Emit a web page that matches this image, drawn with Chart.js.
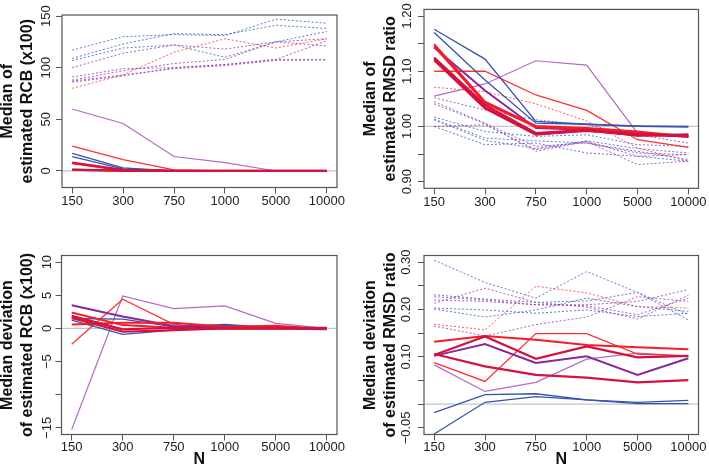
<!DOCTYPE html>
<html>
<head>
<meta charset="utf-8">
<script src="https://cdn.jsdelivr.net/npm/chart.js@4.4.1/dist/chart.umd.min.js"></script>
<style>
body { margin: 0; background: #fff; }
#wrap { position: relative; width: 709px; height: 471px; overflow: hidden; }
canvas { position: absolute; }
</style>
</head>
<body>
<div id="wrap">
  <canvas id="rcb-median" width="354" height="230" style="left:0;top:0"></canvas>
  <canvas id="rmsd-median" width="355" height="230" style="left:354px;top:0"></canvas>
  <canvas id="rcb-dev" width="354" height="241" style="left:0;top:230px"></canvas>
  <canvas id="rmsd-dev" width="355" height="241" style="left:354px;top:230px"></canvas>
</div>
<script>
// sample sizes (x axis)
var nLabels = ['150', '300', '750', '1000', '5000', '10000'];

// --- Median of estimated RCB (x100)
var rcbMedTicks = [0, 50, 100, 150];
var rcbMedTickLabels = ['0', '50', '100', '150'];
var rcbMedSolid = [
  [1, 0, 0, 0, 0, 0],
  [8, 1, 0, 0, 0, 0],
  [7.5, 0.5, 0, 0, 0, 0],
  [1.5, 0.5, 0, 0, 0, 0],
  [17, 3, 0, 0, 0, 0],
  [14, 2, 0, 0, 0, 0],
  [24, 11, 1, 0, 0, 0],
  [60, 46, 14, 8, 0, 0]
];
var rcbMedSolidStyle = ['crimson', 'crimson', 'redT', 'purple', 'blue', 'blue', 'red', 'lpurple'];
var rcbMedDotted = [
  [117, 130, 132, 131, 147, 143],
  [109, 123, 133, 132, 141, 138],
  [107, 119, 122, 110, 125, 135],
  [100, 114, 122, 118, 125, 128],
  [91, 99, 100, 103, 108, 108],
  [88, 97, 104, 108, 125, 121],
  [87, 93, 99, 102, 107, 107.5],
  [86, 92, 100, 103, 108, 126],
  [80, 93, 115, 128, 119, 128]
];
var rcbMedDottedStyle = ['dBlue', 'dBlue', 'dBlue', 'dPurple', 'dPurple', 'dPurple', 'dPurple', 'dPurple', 'dRed'];

// --- Median of estimated RMSD ratio
var rmsdMedTicks = [0.90, 0.95, 1.00, 1.05, 1.10, 1.15, 1.20];
var rmsdMedTickLabels = ['0.90', '', '1.00', '', '1.10', '', '1.20'];
var rmsdMedSolid = [
  [1.125, 1.039, 0.988, 0.994, 0.986, 0.983],
  [1.123, 1.035, 0.986, 0.992, 0.985, 0.982],
  [1.120, 1.033, 0.985, 0.993, 0.984, 0.984],
  [1.149, 1.045, 1.001, 0.997, 0.991, 0.982],
  [1.145, 1.042, 0.999, 0.995, 0.989, 0.981],
  [1.143, 1.065, 0.997, 0.994, 0.983, 0.986],
  [1.176, 1.122, 1.009, 1.004, 1.001, 1.000],
  [1.170, 1.084, 1.006, 1.004, 1.000, 0.999],
  [1.100, 1.100, 1.057, 1.029, 0.976, 0.962],
  [1.055, 1.077, 1.119, 1.111, 0.988, 0.985]
];
var rmsdMedSolidStyle = ['crimson', 'crimson', 'crimson', 'redT', 'redT', 'purple', 'blue', 'blue', 'red', 'lpurple'];
var rmsdMedDotted = [
  [1.071, 1.063, 1.041, 1.010, 0.961, 0.937],
  [1.052, 1.030, 1.012, 1.003, 0.985, 0.970],
  [1.045, 1.006, 0.964, 0.970, 0.952, 0.949],
  [1.041, 1.005, 0.955, 0.973, 0.946, 0.949],
  [1.000, 1.003, 0.958, 0.973, 0.931, 0.937],
  [1.017, 0.991, 0.982, 0.985, 0.967, 0.964],
  [1.013, 0.979, 0.974, 0.970, 0.955, 0.940],
  [1.000, 0.967, 0.970, 0.952, 0.946, 0.937],
  [1.012, 0.975, 0.960, 0.974, 0.960, 0.952]
];
var rmsdMedDottedStyle = ['dRed', 'dPurple', 'dPurple', 'dPurple', 'dPurple', 'dBlue', 'dBlue', 'dBlue', 'dBlue'];

// --- Median deviation of estimated RCB (x100)
var rcbDevTicks = [-15, -10, -5, 0, 5, 10];
var rcbDevTickLabels = ['\u221215', '', '\u22125', '0', '5', '10'];
var rcbDevSolid = [
  [1.9, -0.15, 0.1, 0, 0, 0],
  [1.6, -0.5, -0.25, 0, 0, -0.1],
  [2.4, 0.5, 0.1, 0, 0, 0],
  [0.6, 0.86, 0.86, 0.25, 0.4, -0.1],
  [3.5, 1.8, 0.35, 0.1, 0.1, 0],
  [1.5, 1.4, 0.25, 0.6, 0.1, 0.15],
  [1.26, -0.9, -0.25, 0.5, 0, 0],
  [-2.4, 4.4, 0.6, 0, 0, 0],
  [-15.25, 4.9, 3.0, 3.4, 0.76, 0]
];
var rcbDevSolidStyle = ['crimson', 'crimson', 'redT', 'redT', 'purple', 'blue', 'blue', 'red', 'lpurple'];

// --- Median deviation of estimated RMSD ratio
var rmsdDevTicks = [-0.05, 0, 0.05, 0.10, 0.15, 0.20, 0.25, 0.30];
var rmsdDevTickLabels = ['\u22120.05', '', '', '0.10', '', '0.20', '', '0.30'];
var rmsdDevSolid = [
  [0.104, 0.143, 0.096, 0.122, 0.099, 0.102],
  [0.106, 0.080, 0.062, 0.056, 0.046, 0.051],
  [0.132, 0.144, 0.136, 0.125, 0.120, 0.116],
  [0.102, 0.127, 0.087, 0.101, 0.062, 0.097],
  [-0.018, 0.020, 0.022, 0.009, 0.004, 0.008],
  [-0.063, 0.004, 0.016, 0.009, 0.001, 0.001],
  [0.088, 0.048, 0.149, 0.149, 0.106, 0.102],
  [0.083, 0.027, 0.046, 0.095, 0.108, 0.101]
];
var rmsdDevSolidStyle = ['crimson', 'crimson', 'redT', 'purple', 'blue', 'blue', 'red', 'lpurple'];
var rmsdDevDotted = [
  [0.304, 0.257, 0.224, 0.280, 0.236, 0.178],
  [0.231, 0.222, 0.215, 0.218, 0.236, 0.189],
  [0.201, 0.184, 0.199, 0.224, 0.206, 0.196],
  [0.203, 0.199, 0.192, 0.199, 0.185, 0.192],
  [0.227, 0.220, 0.210, 0.210, 0.217, 0.242],
  [0.220, 0.217, 0.210, 0.208, 0.189, 0.224],
  [0.213, 0.245, 0.215, 0.205, 0.180, 0.230],
  [0.169, 0.157, 0.249, 0.235, 0.206, 0.203],
  [0.165, 0.144, 0.168, 0.184, 0.227, 0.217]
];
var rmsdDevDottedStyle = ['dBlue', 'dBlue', 'dBlue', 'dBlue', 'dPurple', 'dPurple', 'dPurple', 'dRed', 'dPurple'];

// colour, width, dotted
var lineStyles = {
  blue:    ['#3553ad', 1.3, false],
  purple:  ['#86299a', 2, false],
  lpurple: ['#b56ac4', 1.2, false],
  red:     ['#ff3030', 1.3, false],
  redT:    ['#f41c2c', 2, false],
  crimson: ['#d3123f', 2.2, false],
  dBlue:   ['rgba(60,90,200,0.8)', 1, true],
  dPurple: ['rgba(150,60,175,0.8)', 1, true],
  dRed:    ['rgba(255,50,50,0.8)', 1, true]
};

Chart.defaults.font.family = "'Liberation Sans', Arial, sans-serif";

// grey reference line + box round the plot region, like R's box()
var rFrame = {
  id: 'rFrame',
  beforeDatasetsDraw: function(chart, args, opts) {
    var ctx = chart.ctx, a = chart.chartArea;
    var py = chart.scales.y.getPixelForValue(opts.ref);
    ctx.save();
    ctx.strokeStyle = '#c4c4c4';
    ctx.lineWidth = 1.2;
    ctx.beginPath();
    ctx.moveTo(a.left, py);
    ctx.lineTo(a.right, py);
    ctx.stroke();
    ctx.restore();
  },
  afterDatasetsDraw: function(chart) {
    var ctx = chart.ctx, a = chart.chartArea;
    ctx.save();
    ctx.strokeStyle = '#555';
    ctx.lineWidth = 1.2;
    ctx.strokeRect(a.left, a.top, a.width, a.height);
    ctx.restore();
  }
};

function makeLine(vals, styleName) {
  var st = lineStyles[styleName];
  return {
    data: vals.map(function(v, i) { return {x: i, y: v}; }),
    borderColor: st[0],
    borderWidth: st[1],
    borderDash: st[2] ? [2, 2] : [],
    pointRadius: 0,
    tension: 0,
    fill: false
  };
}

function drawPanel(id, p) {
  var datasets = [];
  p.solid.forEach(function(vals, i) { datasets.push(makeLine(vals, p.solidStyle[i])); });
  (p.dotted || []).forEach(function(vals, i) { datasets.push(makeLine(vals, p.dottedStyle[i])); });

  new Chart(document.getElementById(id), {
    type: 'line',
    data: { datasets: datasets },
    options: {
      responsive: false,
      animation: false,
      devicePixelRatio: 1,
      layout: { padding: { top: p.top, right: p.right, left: 0, bottom: 0 } },
      plugins: {
        legend: { display: false },
        tooltip: { enabled: false },
        rFrame: { ref: p.ref }
      },
      scales: {
        x: {
          type: 'linear',
          min: -0.2,
          max: 5.2,
          afterBuildTicks: function(s) { s.ticks = nLabels.map(function(l, i) { return {value: i}; }); },
          afterFit: function(s) { s.height = p.xh; },
          ticks: {
            autoSkip: false,
            maxRotation: 0,
            padding: p.xpad,
            color: '#222',
            font: { size: 13 },
            callback: function(v) { return nLabels[v]; }
          },
          grid: { drawOnChartArea: false, tickLength: 6, color: '#555', lineWidth: 1 },
          border: { display: false },
          title: {
            display: !!p.xTitle,
            text: p.xTitle || '',
            color: '#111',
            font: { size: 16, weight: 'bold', lineHeight: 1.25 },
            padding: { top: 0, bottom: 1 }
          }
        },
        y: {
          type: 'linear',
          min: p.ymin,
          max: p.ymax,
          afterBuildTicks: function(s) { s.ticks = p.ticks.map(function(v) { return {value: v}; }); },
          afterFit: function(s) { s.width = p.yw; },
          ticks: {
            autoSkip: false,
            minRotation: 90,
            maxRotation: 90,
            crossAlign: 'center',
            padding: p.ypad,
            color: '#222',
            font: { size: 13 },
            callback: function(v, i) { return p.tickLabels[i]; }
          },
          grid: { drawOnChartArea: false, tickLength: 6, color: '#555', lineWidth: 1 },
          border: { display: false },
          title: {
            display: true,
            text: p.yTitle,
            color: '#111',
            font: { size: 16, weight: 'bold', lineHeight: 1.25 },
            padding: { top: p.titlePad, bottom: 0 }
          }
        }
      }
    },
    plugins: [rFrame]
  });
}

drawPanel('rcb-median', {
  solid: rcbMedSolid, solidStyle: rcbMedSolidStyle,
  dotted: rcbMedDotted, dottedStyle: rcbMedDottedStyle,
  ticks: rcbMedTicks, tickLabels: rcbMedTickLabels,
  ymin: -16, ymax: 151, ref: 0,
  top: 15, right: 17, yw: 62, xh: 42.5, xpad: 0, ypad: -1, titlePad: -2,
  yTitle: ['Median of', 'estimated RCB (x100)']
});

drawPanel('rmsd-median', {
  solid: rmsdMedSolid, solidStyle: rmsdMedSolidStyle,
  dotted: rmsdMedDotted, dottedStyle: rmsdMedDottedStyle,
  ticks: rmsdMedTicks, tickLabels: rmsdMedTickLabels,
  ymin: 0.888, ymax: 1.212, ref: 1,
  top: 9.4, right: 10.5, yw: 70, xh: 41.7, xpad: 0, ypad: -2, titlePad: 7,
  yTitle: ['Median of', 'estimated RMSD ratio']
});

drawPanel('rcb-dev', {
  solid: rcbDevSolid, solidStyle: rcbDevSolidStyle,
  ticks: rcbDevTicks, tickLabels: rcbDevTickLabels,
  ymin: -16, ymax: 11, ref: 0,
  top: 25.5, right: 17, yw: 61.5, xh: 36.5, xpad: -1, ypad: -2.5, titlePad: -2,
  yTitle: ['Median deviation', 'of estimated RCB (x100)'], xTitle: 'N'
});

drawPanel('rmsd-dev', {
  solid: rmsdDevSolid, solidStyle: rmsdDevSolidStyle,
  dotted: rmsdDevDotted, dottedStyle: rmsdDevDottedStyle,
  ticks: rmsdDevTicks, tickLabels: rmsdDevTickLabels,
  ymin: -0.064, ymax: 0.314, ref: 0,
  top: 25.5, right: 10.5, yw: 70, xh: 36.5, xpad: -1, ypad: -5, titlePad: 6.5,
  yTitle: ['Median deviation', 'of estimated RMSD ratio'], xTitle: 'N'
});
</script>
</body>
</html>
